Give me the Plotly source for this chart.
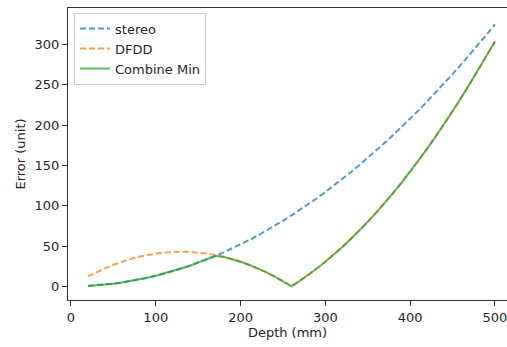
import plotly.graph_objects as go

depth_mm = [20, 30, 40, 50, 60, 70, 80, 90, 100, 110, 120, 130, 140, 150, 160, 170,
            180, 190, 200, 210, 220, 230, 240, 250, 260, 270, 280, 290, 300, 310,
            320, 330, 340, 350, 360, 370, 380, 390, 400, 410, 420, 430, 440, 450,
            460, 470, 480, 490, 500]

stereo_err = [0.5, 1.2, 2.1, 3.3, 4.7, 6.4, 8.3, 10.5, 13.0, 15.7, 18.7, 22.0, 25.5,
              29.3, 33.3, 37.6, 42.1, 46.9, 52.0, 57.3, 62.9, 68.8, 74.9, 81.3, 87.9,
              94.8, 101.9, 109.3, 117.0, 124.9, 133.1, 141.6, 150.3, 159.3, 168.5,
              178.0, 187.7, 197.7, 208.0, 218.5, 229.3, 240.4, 251.7, 263.3, 275.1,
              287.2, 299.5, 312.1, 325.0]

dfdd_err = [12.2, 17.5, 22.3, 26.7, 30.5, 33.8, 36.6, 38.8, 40.6, 41.9, 42.7, 42.9,
            42.7, 41.9, 40.6, 38.8, 36.6, 33.8, 30.5, 26.7, 22.3, 17.5, 12.2, 6.4, 0.0,
            6.9, 14.2, 22.1, 30.5, 39.4, 48.7, 58.6, 69.1, 80.0, 91.4, 103.3, 115.8,
            128.7, 142.2, 156.1, 170.6, 185.6, 201.1, 217.0, 233.5, 250.6, 268.1,
            286.1, 303.6]

combine_min = [0.5, 1.2, 2.1, 3.3, 4.7, 6.4, 8.3, 10.5, 13.0, 15.7, 18.7, 22.0, 25.5,
               29.3, 33.3, 37.6, 36.6, 33.8, 30.5, 26.7, 22.3, 17.5, 12.2, 6.4, 0.0,
               6.9, 14.2, 22.1, 30.5, 39.4, 48.7, 58.6, 69.1, 80.0, 91.4, 103.3, 115.8,
               128.7, 142.2, 156.1, 170.6, 185.6, 201.1, 217.0, 233.5, 250.6, 268.1,
               286.1, 303.6]

x_ticks = [0, 100, 200, 300, 400, 500]
y_ticks = [0, 50, 100, 150, 200, 250, 300]

FONT = "DejaVu Sans"
TXT = "#262626"
FS = 13

fig = go.Figure()
fig.add_trace(go.Scatter(x=depth_mm, y=stereo_err, mode="lines", name="stereo",
                         line=dict(color="rgba(31,119,180,0.75)", width=2, dash="6px,3px")))
fig.add_trace(go.Scatter(x=depth_mm, y=dfdd_err, mode="lines", name="DFDD",
                         line=dict(color="rgba(255,127,14,0.75)", width=2, dash="6px,3px")))
fig.add_trace(go.Scatter(x=depth_mm, y=combine_min, mode="lines", name="Combine Min",
                         line=dict(color="rgba(44,160,44,0.75)", width=2)))

fig.update_layout(
    width=507, height=347,
    margin=dict(l=68, r=0, t=8, b=47),
    paper_bgcolor="white", plot_bgcolor="white",
    font=dict(family=FONT, size=FS, color=TXT),
    showlegend=True,
    legend=dict(x=0.0137, y=0.984, xanchor="left", yanchor="top",
                bgcolor="rgba(255,255,255,0.8)", bordercolor="#cccccc", borderwidth=1,
                font=dict(family=FONT, size=FS, color=TXT), itemwidth=30,
                tracegroupgap=0),
)
fig.update_xaxes(
    range=[-3.5, 514.2], tickmode="array", tickvals=x_ticks,
    ticks="outside", ticklen=5, tickcolor="#333", tickwidth=1,
    showline=True, linecolor="#333", linewidth=1, mirror=True,
    showgrid=False, zeroline=False, ticklabeloverflow="allow",
    title=dict(text="Depth (mm)", font=dict(family=FONT, size=FS, color=TXT), standoff=4),
    tickfont=dict(family=FONT, size=FS, color=TXT),
)
fig.update_yaxes(
    range=[-17, 345.3], tickmode="array", tickvals=y_ticks,
    ticks="outside", ticklen=5, tickcolor="#333", tickwidth=1,
    showline=True, linecolor="#333", linewidth=1, mirror=True,
    showgrid=False, zeroline=False,
    title=dict(text="Error (unit)", font=dict(family=FONT, size=FS, color=TXT), standoff=6),
    tickfont=dict(family=FONT, size=FS, color=TXT),
)

fig.write_html(
    "out.html",
    config={"displayModeBar": False},
    post_script="document.body.style.margin='0';document.documentElement.style.overflow='hidden';document.body.style.overflow='hidden';",
)
